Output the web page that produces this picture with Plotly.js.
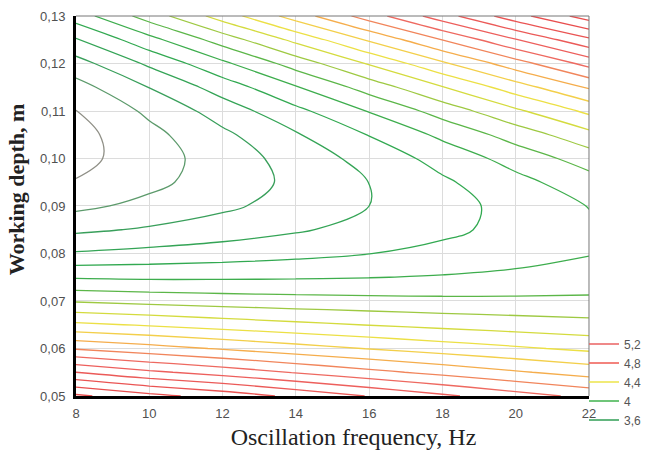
<!DOCTYPE html>
<html>
<head>
<meta charset="utf-8">
<script src="https://cdn.plot.ly/plotly-3.0.1.min.js"></script>
<style>html,body{margin:0;padding:0;background:#fff;}#chart{width:647px;height:450px;}</style>
</head>
<body>
<div id="chart"></div>
<script>
// Oscillation frequency (Hz) columns and working depth (m) rows
const freq = [8, 10, 12, 14, 16, 18, 20, 22];
const depth = [0.050, 0.055, 0.060, 0.065, 0.070, 0.075, 0.080, 0.085, 0.090,
               0.095, 0.100, 0.105, 0.110, 0.115, 0.120, 0.125, 0.130];

// Estimated surface values, one array per frequency (depth ascending)
const z_f8  = [5.32, 5.00, 4.69, 4.42, 4.19, 3.99, 3.81, 3.68, 3.577, 3.506, 3.468, 3.466, 3.498, 3.562, 3.66, 3.79, 3.95];
const z_f10 = [5.23, 4.92, 4.64, 4.389, 4.169, 3.983, 3.831, 3.712, 3.627, 3.575, 3.556, 3.571, 3.620, 3.702, 3.818, 3.967, 4.145];
const z_f12 = [5.16, 4.858, 4.590, 4.354, 4.153, 3.985, 3.850, 3.749, 3.681, 3.647, 3.646, 3.679, 3.745, 3.845, 3.979, 4.145, 4.346];
const z_f14 = [5.076, 4.792, 4.541, 4.323, 4.140, 3.989, 3.872, 3.789, 3.739, 3.722, 3.740, 3.790, 3.874, 3.992, 4.143, 4.327, 4.546];
const z_f16 = [4.995, 4.729, 4.495, 4.296, 4.130, 3.997, 3.898, 3.832, 3.800, 3.801, 3.836, 3.904, 4.006, 4.142, 4.310, 4.513, 4.749];
const z_f18 = [4.918, 4.669, 4.453, 4.271, 4.123, 4.008, 3.927, 3.879, 3.864, 3.884, 3.936, 4.022, 4.142, 4.295, 4.482, 4.702, 4.955];
const z_f20 = [4.843, 4.612, 4.415, 4.251, 4.120, 4.023, 3.959, 3.929, 3.932, 3.969, 4.039, 4.143, 4.281, 4.452, 4.656, 4.894, 5.16];
const z_f22 = [4.773, 4.559, 4.379, 4.233, 4.120, 4.041, 3.995, 3.982, 4.003, 4.058, 4.146, 4.268, 4.423, 4.611, 4.834, 5.08, 5.35];

// Legend entries
const legendLabels = ["5,2", "4,8", "4,4", "4", "3,6"];
const legendColors = ["#ea6262", "#ef5a52", "#ece44a", "#3fb24c", "#2f9e55"];

const columns = [z_f8, z_f10, z_f12, z_f14, z_f16, z_f18, z_f20, z_f22];
const zGrid = depth.map((_, r) => columns.map(col => col[r]));

const levelStart = 3.5, levelEnd = 5.3;
const cs = [
  [0.000, '#8f8f86'],
  [0.056, '#5e9a6c'],
  [0.111, '#3a9e5c'],
  [0.222, '#2fa852'],
  [0.333, '#45b04a'],
  [0.389, '#84c244'],
  [0.444, '#c2d43e'],
  [0.500, '#e8e23e'],
  [0.556, '#f0de4c'],
  [0.611, '#f5c548'],
  [0.667, '#f5a04e'],
  [0.722, '#f07a60'],
  [0.778, '#ee6460'],
  [1.000, '#e84e4e']
];

const traces = [{
  type: 'contour',
  x: freq, y: depth, z: zGrid,
  zmin: levelStart, zmax: levelEnd,
  autocontour: false,
  contours: {start: levelStart, end: levelEnd, size: 0.1, coloring: 'lines'},
  colorscale: cs,
  line: {width: 1.3, smoothing: 1},
  showscale: false,
  showlegend: false,
  hoverinfo: 'skip'
}];
legendLabels.forEach((lab, i) => {
  traces.push({
    type: 'scatter', mode: 'lines', x: [null], y: [null],
    name: lab, line: {color: legendColors[i], width: 1.5}, showlegend: true
  });
});

const tickFont = {family: 'Liberation Sans, Arial, sans-serif', size: 13, color: '#505050'};
const layout = {
  width: 647, height: 450,
  margin: {l: 76, r: 0, t: 16, b: 2},
  paper_bgcolor: '#fff', plot_bgcolor: '#fff',
  separators: ',.',
  showlegend: true,
  legend: {x: 1, xanchor: 'right', y: 0.153, yanchor: 'middle',
           font: {family: 'Liberation Sans, Arial, sans-serif', size: 12, color: '#555'},
           bgcolor: 'rgba(0,0,0,0)', itemwidth: 30, tracegroupgap: 0},
  xaxis: {
    domain: [0, 0.8984],
    range: [8, 22], dtick: 2, tick0: 8,
    showgrid: true, gridcolor: '#dcdcdc', gridwidth: 1, zeroline: false,
    showline: true, linecolor: '#000', linewidth: 3,
    ticks: '', tickfont: tickFont, ticklabelstandoff: 3,
    title: {text: '&nbsp;&nbsp;&nbsp;&nbsp;&nbsp;&nbsp;&nbsp;Oscillation frequency, Hz', standoff: 9,
            font: {family: 'Liberation Serif, Times New Roman, serif', size: 24, color: '#222'}}
  },
  yaxis: {
    domain: [0.1204, 1],
    range: [0.05, 0.13], dtick: 0.01, tick0: 0.05, tickformat: '.2f',
    showgrid: true, gridcolor: '#dcdcdc', gridwidth: 1, zeroline: false,
    showline: true, linecolor: '#000', linewidth: 3,
    ticks: '', tickfont: tickFont, ticklabelstandoff: 5,
    title: {text: '<b>&nbsp;&nbsp;&nbsp;&nbsp;&nbsp;&nbsp;Working depth, m</b>', standoff: 10,
            font: {family: 'Liberation Serif, Times New Roman, serif', size: 22, color: '#222'}}
  },
  shapes: [
    {type: 'line', xref: 'x domain', yref: 'y domain', x0: 0, x1: 1, y0: 1, y1: 1, line: {color: '#777', width: 1}},
    {type: 'line', xref: 'x domain', yref: 'y domain', x0: 1, x1: 1, y0: 0, y1: 1, line: {color: '#777', width: 1}}
  ]
};

Plotly.newPlot('chart', traces, layout, {displayModeBar: false, staticPlot: true});
</script>
</body>
</html>
